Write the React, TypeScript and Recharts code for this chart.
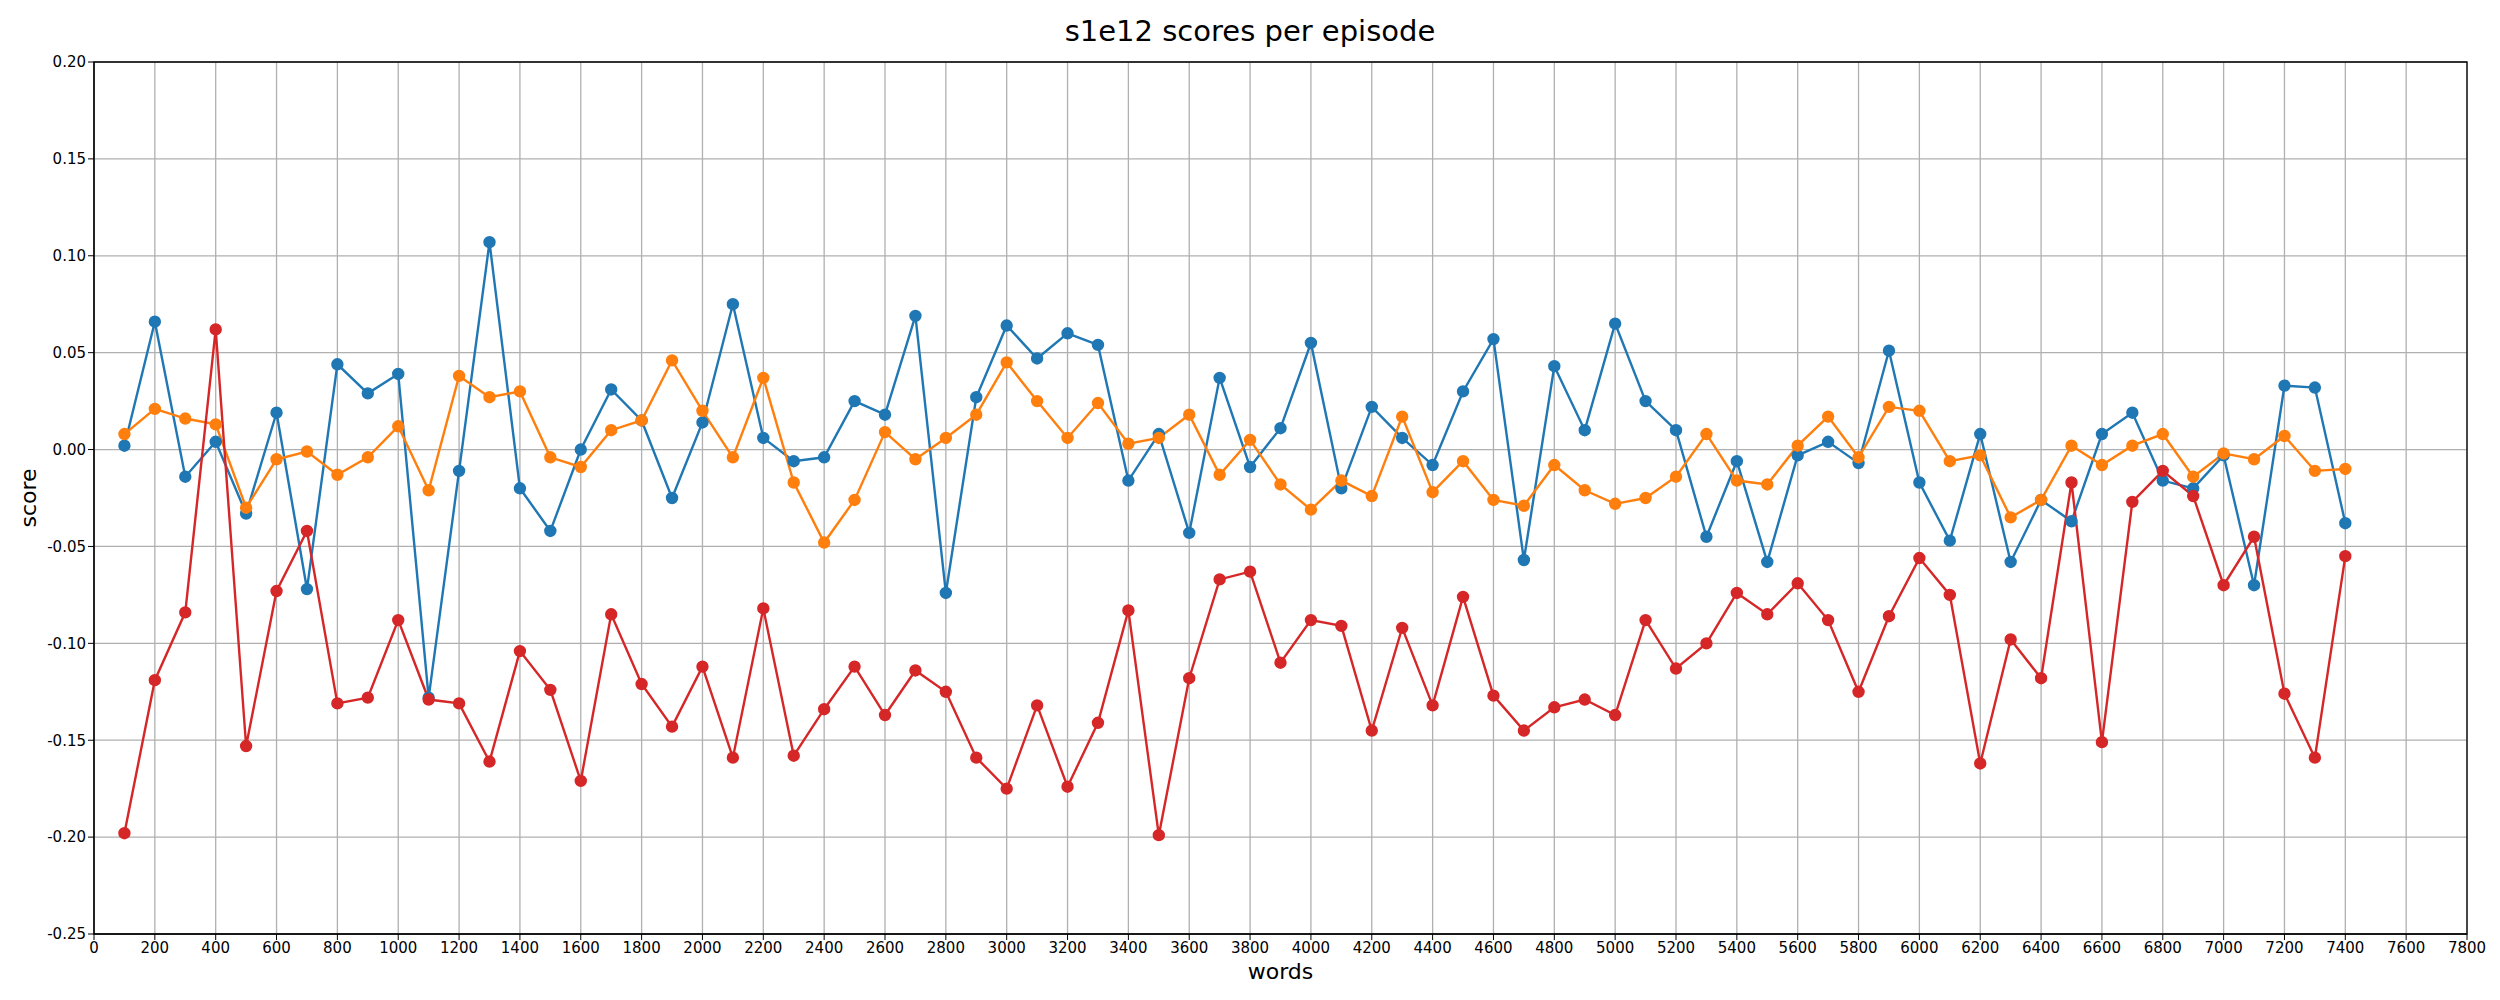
import React from 'react';
import { LineChart, Line, XAxis, YAxis, CartesianGrid, ReferenceArea } from 'recharts';

const words = Array.from({ length: 74 }, (_, i) => (i + 1) * 100);

const blueScores = [
  0.002, 0.066, -0.014, 0.004, -0.033, 0.019, -0.072, 0.044, 0.029, 0.039,
  -0.128, -0.011, 0.107, -0.02, -0.042, 0.0, 0.031, 0.015, -0.025, 0.014,
  0.075, 0.006, -0.006, -0.004, 0.025, 0.018, 0.069, -0.074, 0.027, 0.064,
  0.047, 0.06, 0.054, -0.016, 0.008, -0.043, 0.037, -0.009, 0.011, 0.055,
  -0.02, 0.022, 0.006, -0.008, 0.03, 0.057, -0.057, 0.043, 0.01, 0.065,
  0.025, 0.01, -0.045, -0.006, -0.058, -0.003, 0.004, -0.007, 0.051, -0.017,
  -0.047, 0.008, -0.058, -0.026, -0.037, 0.008, 0.019, -0.016, -0.02, -0.003,
  -0.07, 0.033, 0.032, -0.038,
];

const orangeScores = [
  0.008, 0.021, 0.016, 0.013, -0.03, -0.005, -0.001, -0.013, -0.004, 0.012,
  -0.021, 0.038, 0.027, 0.03, -0.004, -0.009, 0.01, 0.015, 0.046, 0.02,
  -0.004, 0.037, -0.017, -0.048, -0.026, 0.009, -0.005, 0.006, 0.018, 0.045,
  0.025, 0.006, 0.024, 0.003, 0.006, 0.018, -0.013, 0.005, -0.018, -0.031,
  -0.016, -0.024, 0.017, -0.022, -0.006, -0.026, -0.029, -0.008, -0.021, -0.028,
  -0.025, -0.014, 0.008, -0.016, -0.018, 0.002, 0.017, -0.004, 0.022, 0.02,
  -0.006, -0.003, -0.035, -0.026, 0.002, -0.008, 0.002, 0.008, -0.014, -0.002,
  -0.005, 0.007, -0.011, -0.01,
];

const redScores = [
  -0.198, -0.119, -0.084, 0.062, -0.153, -0.073, -0.042, -0.131, -0.128, -0.088,
  -0.129, -0.131, -0.161, -0.104, -0.124, -0.171, -0.085, -0.121, -0.143, -0.112,
  -0.159, -0.082, -0.158, -0.134, -0.112, -0.137, -0.114, -0.125, -0.159, -0.175,
  -0.132, -0.174, -0.141, -0.083, -0.199, -0.118, -0.067, -0.063, -0.11, -0.088,
  -0.091, -0.145, -0.092, -0.132, -0.076, -0.127, -0.145, -0.133, -0.129, -0.137,
  -0.088, -0.113, -0.1, -0.074, -0.085, -0.069, -0.088, -0.125, -0.086, -0.056,
  -0.075, -0.162, -0.098, -0.118, -0.017, -0.151, -0.027, -0.011, -0.024, -0.07,
  -0.045, -0.126, -0.159, -0.055,
];

const xTicks = Array.from({ length: 40 }, (_, i) => i * 200);
const yTicks = [-0.25, -0.2, -0.15, -0.1, -0.05, 0, 0.05, 0.1, 0.15, 0.2];

const data = words.map((w, i) => ({
  words: w,
  blue: blueScores[i],
  orange: orangeScores[i],
  red: redScores[i],
}));

const tickStyle = { fontSize: 15, fill: '#000', fontFamily: 'DejaVu Sans' };

export default function App() {
  return (
    <div style={{ margin: -8, width: 2500, height: 1000, position: 'relative', background: '#fff', fontFamily: 'DejaVu Sans' }}>
      <div style={{ position: 'absolute', top: 14, left: 0, width: 2500, textAlign: 'center', fontSize: 29 }}>
        s1e12 scores per episode
      </div>
      <div style={{ position: 'absolute', top: 959, left: 94, width: 2373, textAlign: 'center', fontSize: 22 }}>
        words
      </div>
      <div
        style={{
          position: 'absolute', left: 28, top: 498, fontSize: 22,
          transform: 'translate(-50%, -50%) rotate(-90deg)',
        }}
      >
        score
      </div>
      <LineChart width={2500} height={1000} data={data} margin={{ top: 62, right: 33, bottom: 0, left: 0 }}>
        <CartesianGrid stroke="#b0b0b0" strokeWidth={1.3} />
        <XAxis
          dataKey="words"
          type="number"
          domain={[0, 7800]}
          ticks={xTicks}
          interval={0}
          height={66}
          tick={tickStyle}
          tickLine={{ stroke: '#000' }}
          axisLine={{ stroke: '#000' }}
          tickSize={6}
        />
        <YAxis
          type="number"
          domain={[-0.25, 0.2]}
          ticks={yTicks}
          interval={0}
          width={94}
          tick={tickStyle}
          tickFormatter={(v: number) => v.toFixed(2)}
          tickLine={{ stroke: '#000' }}
          axisLine={{ stroke: '#000' }}
          tickSize={6}
        />
        <ReferenceArea x1={0} x2={7800} y1={-0.25} y2={0.2} fill="none" stroke="#000" strokeWidth={1.3} ifOverflow="visible" />
        <Line dataKey="blue" stroke="#1f77b4" strokeWidth={2.4} dot={{ r: 5, fill: '#1f77b4', stroke: '#1f77b4' }} isAnimationActive={false} />
        <Line dataKey="orange" stroke="#ff7f0e" strokeWidth={2.4} dot={{ r: 5, fill: '#ff7f0e', stroke: '#ff7f0e' }} isAnimationActive={false} />
        <Line dataKey="red" stroke="#d62728" strokeWidth={2.4} dot={{ r: 5, fill: '#d62728', stroke: '#d62728' }} isAnimationActive={false} />
      </LineChart>
    </div>
  );
}
